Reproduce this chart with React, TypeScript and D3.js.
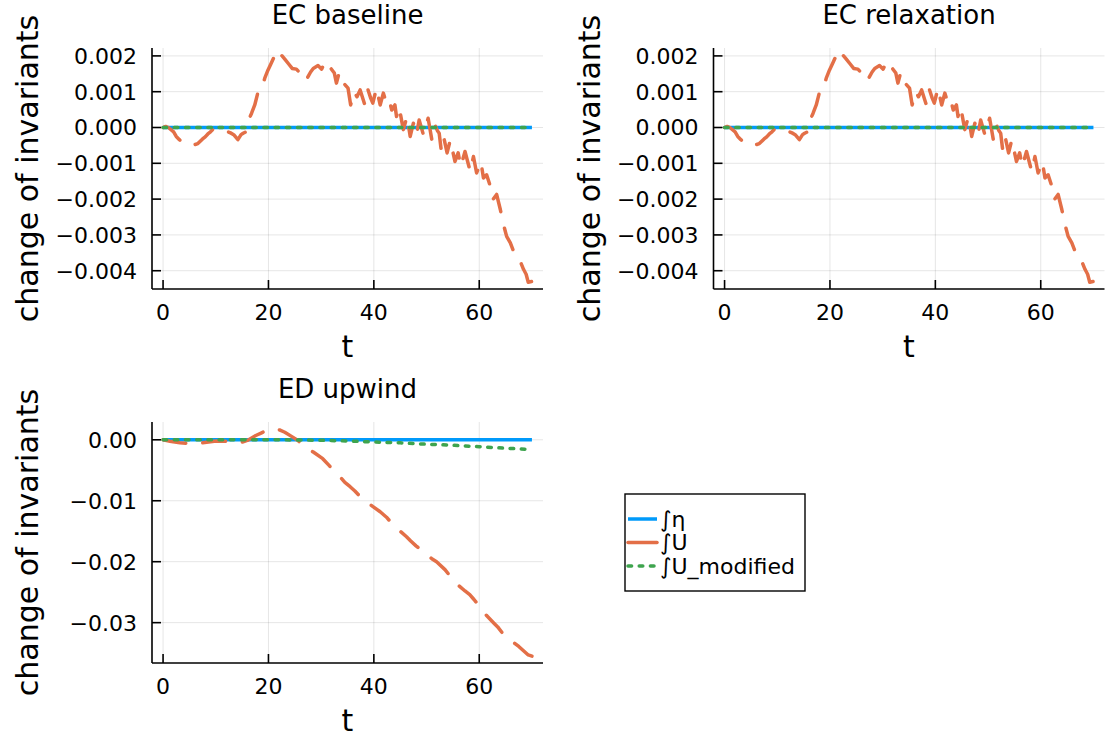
import React from "react";
import * as d3 from "d3";

// ---- data -------------------------------------------------------------
// time samples and change of ∫U for the energy-conserving runs
const ecT = [
  0, 0.5, 1.0, 1.5, 2.0, 2.5, 3.1, 3.6, 4.1, 5.0, 5.8, 6.6, 7.5, 8.0, 8.5, 9.0, 9.4, 10.0,
  10.4, 10.9, 11.3, 12.0, 12.8, 13.4, 14.2, 14.8, 15.2, 15.6, 16.2, 16.8, 17.4, 18.0, 18.7,
  19.3, 19.9, 20.5, 21.1, 21.7, 22.4, 23.1, 23.8, 24.5, 25.3, 26.0, 26.5, 27.4, 28.0, 28.5,
  29.4, 30.1, 30.8, 31.6, 32.5, 32.9, 33.4, 33.8, 34.5, 35.1, 35.6, 36.2, 36.8, 37.4, 38.3,
  38.9, 39.4, 39.8, 40.5, 41.2, 41.8, 42.4, 42.9, 43.4, 44.0, 44.3, 44.8, 45.3, 45.6, 46.3,
  46.9, 47.5, 48.1, 48.6, 49.4, 50.3, 51.0, 51.6, 52.1, 52.4, 52.8, 53.3, 53.9, 54.5, 55.4,
  56.0, 56.5, 57.3, 58.3, 58.9, 59.5, 60.3, 60.8, 61.4, 62.1, 62.6, 63.3, 64.0, 64.6, 65.2,
  65.9, 66.5, 67.0, 67.5, 67.9, 68.4, 68.9, 69.3, 70.0,
];
const ecBaselineU = [
  0, 0.00003, 0.0, -0.00006, -0.00012, -0.00025, -0.00034, -0.0004, -0.00046, -0.0005,
  -0.00049, -0.00045, -0.00032, -0.00026, -0.00018, -0.00012, -0.00006, -0.00004, -0.00002,
  -0.00005, -0.00006, -0.0001, -0.00015, -0.0002, -0.00034, -0.0002, -0.00016, -0.00013,
  0.0002, 0.0004, 0.00063, 0.00098, 0.00105, 0.00138, 0.0016, 0.00179, 0.00198, 0.00184,
  0.00203, 0.00191, 0.00178, 0.00165, 0.00163, 0.00152, 0.00161, 0.00139, 0.00155, 0.00165,
  0.00173, 0.00163, 0.00186, 0.0017, 0.00152, 0.00124, 0.00152, 0.00124, 0.0012, 0.0011,
  0.00063, 0.001, 0.00086, 0.00105, 0.00063, 0.00105, 0.00082, 0.00068, 0.0011, 0.00063,
  0.00096, 0.00068, 0.00077, 0.00049, 0.00063, 0.00031, 0.00058, 0.00017, -0.00006, 0.00031,
  -0.00025, 0.00012, -0.0002, 0.00021, -0.0002, 0.00026, -0.00034, 0.00007, -0.0001,
  -0.00016, -0.00065, -0.0003, -0.00071, -0.00035, -0.00095, -0.00071, -0.00109, -0.00067,
  -0.00123, -0.00081, -0.00127, -0.00095, -0.00141, -0.00132, -0.00164, -0.00201, -0.00187,
  -0.00229, -0.00271, -0.00304, -0.00322, -0.00345, -0.00364, -0.0037, -0.00378, -0.00396,
  -0.0041, -0.00432, -0.0043,
];
const ecRelaxationU = ecBaselineU;

// flat invariants (∫η, and ∫U_modified for the EC schemes)
const flatT = [0, 70];
const flatZero = [0, 0];

// ED upwind run
const edT = [
  0, 1.3, 3.2, 5.7, 7.5, 10.1, 12.0, 13.6, 14.6, 16.0, 17.6, 18.7, 19.6, 20.9, 22.2, 23.1,
  24.3, 25.6, 27.2, 28.5, 30.3, 31.5, 32.6, 33.6, 34.5, 35.5, 36.4, 37.5, 38.6, 39.9, 41.2,
  42.4, 43.5, 44.6, 46.2, 47.0, 48.0, 49.0, 50.1, 51.0, 51.9, 53.5, 54.5, 55.4, 57.3, 58.2,
  59.0, 60.0, 60.9, 62.7, 63.5, 64.3, 65.5, 66.6, 67.5, 68.4, 69.3, 70.0,
];
const edUpwindU = [
  0, -0.00023, -0.0005, -0.00065, -0.0005, -0.0002, -0.00023, -0.0004, -0.0005, -0.0001,
  0.0007, 0.00114, 0.0015, 0.0018, 0.0016, 0.00124, 0.0006, -0.0001, -0.00147, -0.002,
  -0.0031, -0.0042, -0.0053, -0.0061, -0.007, -0.0077, -0.0084, -0.0094, -0.0102, -0.011,
  -0.0118, -0.0127, -0.0138, -0.0147, -0.0159, -0.0166, -0.0174, -0.0181, -0.0189, -0.0195,
  -0.02, -0.0213, -0.0224, -0.0234, -0.0248, -0.0254, -0.0262, -0.0273, -0.0284, -0.03,
  -0.0307, -0.0316, -0.0326, -0.0333, -0.0339, -0.0346, -0.0353, -0.0355,
];
const edModT = [0, 10, 20, 25, 30, 35, 40, 45, 50, 55, 60, 65, 70];
const edUpwindUMod = [
  0, 0, 0, -0.00002, -0.00008, -0.0002, -0.00036, -0.0005, -0.00072, -0.0009, -0.00113,
  -0.00138, -0.0016,
];

const xTicks = [0, 20, 40, 60];
const ecYTicks = [-0.004, -0.003, -0.002, -0.001, 0, 0.001, 0.002];
const edYTicks = [-0.03, -0.02, -0.01, 0];
const legendLabels = ["∫η", "∫U", "∫U_modified"];

// ---- styling ----------------------------------------------------------
const FONT = "DejaVu Sans";
const COLORS = ["#009AFA", "#E36F47", "#3EA44E"];
const LW = 3.5;
const DASHES = [undefined, "23 17", "3.6 7.6"];
const CAPS = ["butt", "round", "round"];
const TICK_FS = 22;

type Series = { t: number[]; v: number[] };

function Panel(props: {
  title: string;
  left: number;
  top: number;
  width: number;
  height: number;
  series: Series[];
  yTicks: number[];
  yFmt: string;
  id: string;
}) {
  const { title, left, top, width, height, series, yTicks, yFmt, id } = props;
  const allT = series.flatMap((s) => s.t);
  const allV = series.flatMap((s) => s.v);
  const [t0, t1] = d3.extent(allT) as [number, number];
  const [v0, v1] = d3.extent(allV) as [number, number];
  const pt = (t1 - t0) * 0.03;
  const pv = (v1 - v0) * 0.03;
  const x = d3.scaleLinear().domain([t0 - pt, t1 + pt]).range([left, left + width]);
  const y = d3.scaleLinear().domain([v0 - pv, v1 + pv]).range([top + height, top]);
  const fmt = d3.format(yFmt);
  const bottom = top + height;
  const line = (s: Series) =>
    d3
      .line<number>()
      .x((_, i) => x(s.t[i]))
      .y((d) => y(d))(s.v) || "";
  const tickLen = 9;
  return (
    <g>
      <defs>
        <clipPath id={id}>
          <rect x={left} y={top} width={width} height={height} />
        </clipPath>
      </defs>
      {/* grid */}
      {xTicks.map((t) => (
        <line key={"gx" + t} x1={x(t)} x2={x(t)} y1={top} y2={bottom} stroke="#000" strokeOpacity={0.1} strokeWidth={1} />
      ))}
      {yTicks.map((v) => (
        <line key={"gy" + v} x1={left} x2={left + width} y1={y(v)} y2={y(v)} stroke="#000" strokeOpacity={0.1} strokeWidth={1} />
      ))}
      {/* series */}
      <g clipPath={`url(#${id})`}>
        {series.map((s, i) => (
          <path
            key={i}
            d={line(s)}
            fill="none"
            stroke={COLORS[i]}
            strokeWidth={LW}
            strokeDasharray={DASHES[i]}
            strokeLinecap={CAPS[i] as any}
            strokeLinejoin="round"
          />
        ))}
      </g>
      {/* spines */}
      <line x1={left} x2={left + width} y1={bottom} y2={bottom} stroke="#000" strokeWidth={1.6} />
      <line x1={left} x2={left} y1={top} y2={bottom} stroke="#000" strokeWidth={1.6} />
      {/* ticks */}
      {xTicks.map((t) => (
        <g key={"xt" + t}>
          <line x1={x(t)} x2={x(t)} y1={bottom} y2={bottom - tickLen} stroke="#000" strokeWidth={1.6} />
          <text x={x(t)} y={bottom + 31} fontFamily={FONT} fontSize={TICK_FS} textAnchor="middle">
            {t}
          </text>
        </g>
      ))}
      {yTicks.map((v) => (
        <g key={"yt" + v}>
          <line x1={left} x2={left + tickLen} y1={y(v)} y2={y(v)} stroke="#000" strokeWidth={1.6} />
          <text x={left - 15} y={y(v) + TICK_FS * 0.36} fontFamily={FONT} fontSize={TICK_FS} textAnchor="end">
            {fmt(v)}
          </text>
        </g>
      ))}
      {/* labels */}
      <text x={left + width / 2} y={top - 24} fontFamily={FONT} fontSize={26} textAnchor="middle">
        {title}
      </text>
      <text x={left + width / 2} y={bottom + 68} fontFamily={FONT} fontSize={30} textAnchor="middle">
        t
      </text>
      <text
        transform={`translate(${left - 114},${top + height / 2}) rotate(-90)`}
        fontFamily={FONT}
        fontSize={30}
        textAnchor="middle"
      >
        change of invariants
      </text>
    </g>
  );
}

export default function App() {
  const ecSeries = (u: number[]): Series[] => [
    { t: flatT, v: flatZero },
    { t: ecT, v: u },
    { t: flatT, v: flatZero },
  ];
  const edSeries: Series[] = [
    { t: flatT, v: flatZero },
    { t: edT, v: edUpwindU },
    { t: edModT, v: edUpwindUMod },
  ];
  const lg = { x: 625, y: 494, w: 180, h: 97 };
  const rows = [519, 542.5, 566];
  return (
    <svg
      width={1105}
      height={740}
      style={{ position: "absolute", left: 0, top: 0, display: "block", background: "#fff" }}
    >
      <rect width={1105} height={740} fill="#fff" />
      <Panel id="c1" title="EC baseline" left={152} top={48} width={391} height={241} series={ecSeries(ecBaselineU)} yTicks={ecYTicks} yFmt=".3f" />
      <Panel id="c2" title="EC relaxation" left={713.5} top={48} width={391} height={241} series={ecSeries(ecRelaxationU)} yTicks={ecYTicks} yFmt=".3f" />
      <Panel id="c3" title="ED upwind" left={152} top={422} width={391} height={241} series={edSeries} yTicks={edYTicks} yFmt=".2f" />
      {/* legend */}
      <rect x={lg.x} y={lg.y} width={lg.w} height={lg.h} fill="#fff" stroke="#000" strokeWidth={1.4} />
      {legendLabels.map((lab, i) => (
        <g key={lab}>
          <line
            x1={628}
            x2={657}
            y1={rows[i]}
            y2={rows[i]}
            stroke={COLORS[i]}
            strokeWidth={LW}
            strokeDasharray={i === 2 ? DASHES[2] : undefined}
            strokeLinecap={CAPS[i] as any}
          />
          <text x={660} y={rows[i] + 7.5} fontFamily={FONT} fontSize={22}>
            {lab}
          </text>
        </g>
      ))}
    </svg>
  );
}
